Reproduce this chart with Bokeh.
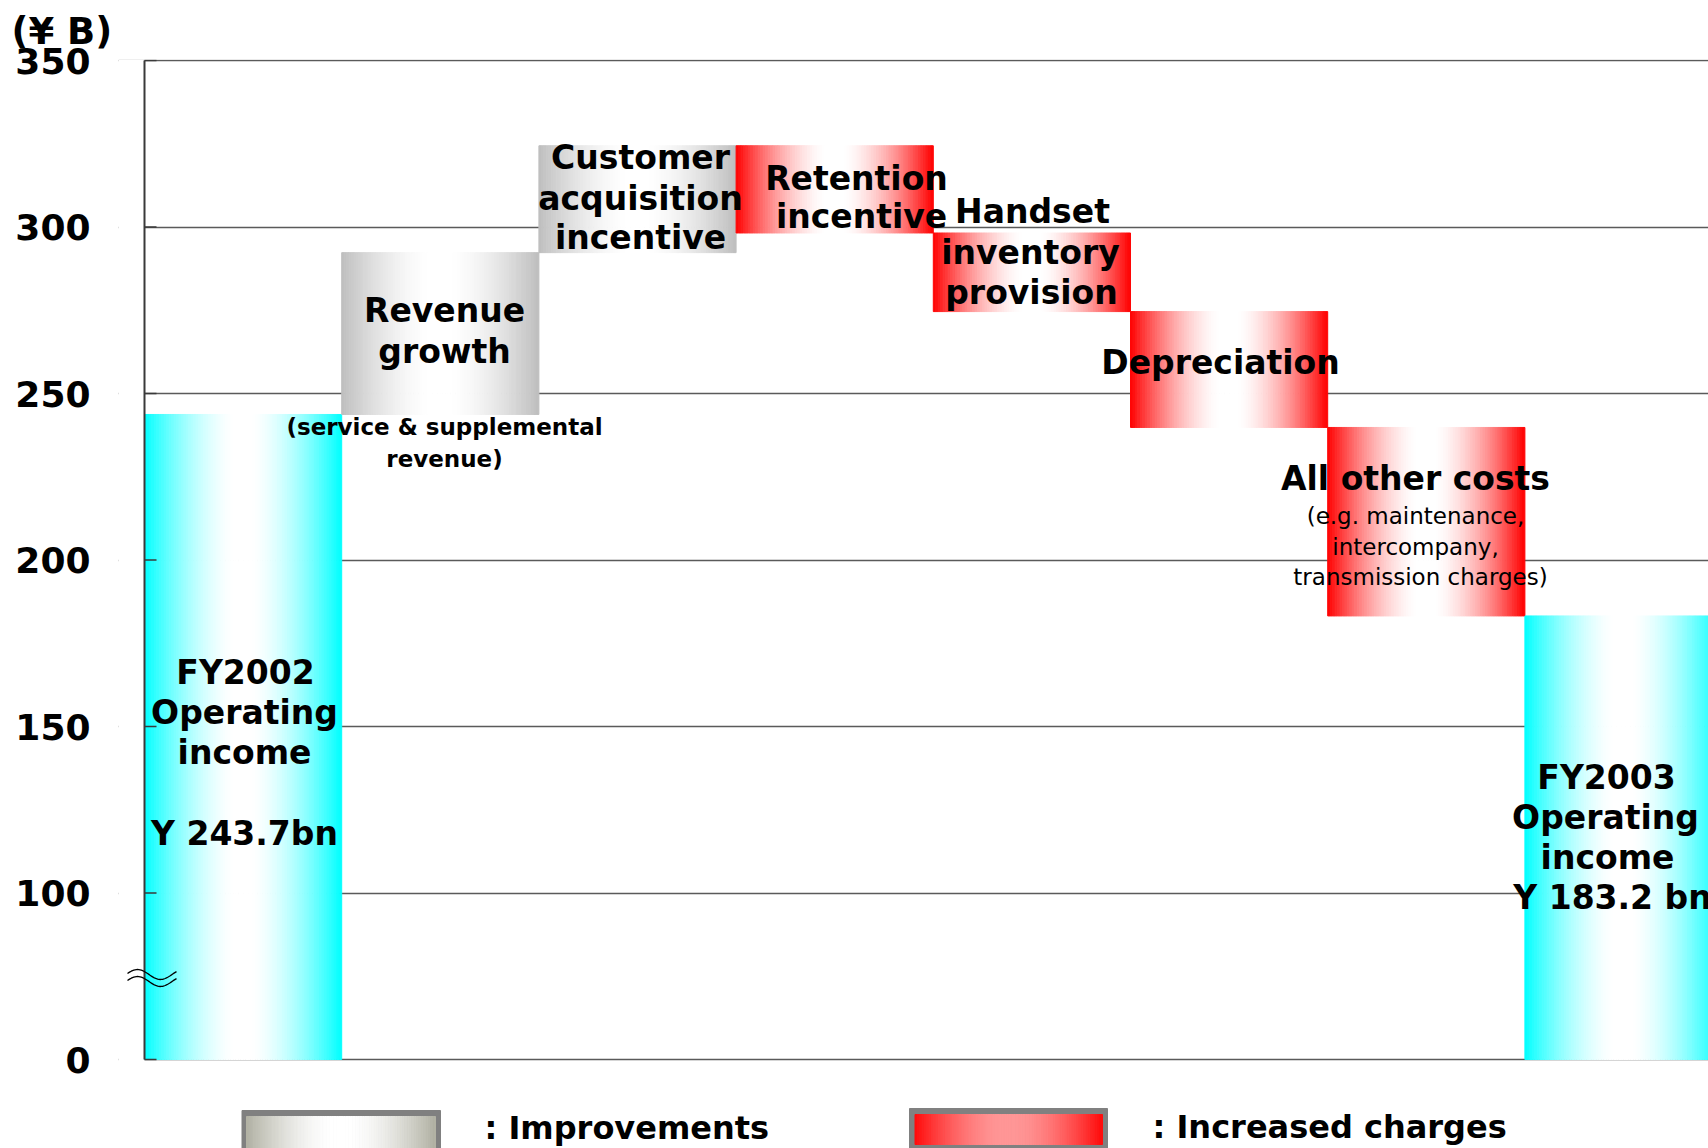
import numpy as np
from bokeh.plotting import figure
from bokeh.models import Range1d, FixedTicker, ColumnDataSource
from bokeh.embed import file_html
from bokeh.resources import INLINE
from bokeh.core.properties import value

# ---------------- data ----------------
categories = ["FY2002 Operating income", "Revenue growth", "Customer acquisition incentive",
              "Retention incentive", "Handset inventory provision", "Depreciation",
              "All other costs", "FY2003 Operating income"]
start_value = 243.7
changes = [48.6, 32.1, -26.2, -23.6, -34.8, -56.6]
end_value = 183.2
kinds = ["total", "improvement", "improvement", "charge", "charge", "charge", "charge", "total"]
y_ticks = [50, 100, 150, 200, 250, 300, 350]
y_tick_labels = ["0", "100", "150", "200", "250", "300", "350"]
axis_base = 50          # broken axis: the "0" line sits where 50 would be
y_top = 350
unit_label = "(¥ B)"
legend_labels = [": Improvements", ": Increased charges"]

# ---------------- layout constants ----------------
W, H = 1708, 1148
AXIS_PX = 144            # where the value axis line is drawn
FRAME_L = 118            # frame starts a bit left so the break mark is visible
FRAME_T = 59
PX_PER_UNIT = 999 / 300.0
BAR_PX = 197.2
Y_ZERO_PX = 1059


def dx(px):
    return -0.5 + (np.asarray(px, dtype=float) - AXIS_PX) / BAR_PX


def dy(py):
    return axis_base + (Y_ZERO_PX - np.asarray(py, dtype=float)) / PX_PER_UNIT


X0, X1 = float(dx(FRAME_L)), float(dx(W))
Y0, Y1 = float(dy(H)), float(dy(FRAME_T))

# ---------------- waterfall geometry from data ----------------
bottoms, tops = [axis_base], [start_value]
running = start_value
for c in changes:
    bottoms.append(min(running, running + c))
    tops.append(max(running, running + c))
    running += c
bottoms.append(axis_base)
tops.append(end_value)

edge_colors = {"total": (0, 255, 255), "improvement": (190, 190, 190), "charge": (255, 0, 0)}
WHITE = (255, 255, 255)
N = 80


def mix(edge, center, f):
    return "#%02x%02x%02x" % tuple(int(round(c + (e - c) * f)) for e, c in zip(edge, center))


def prof(s):
    return float(np.clip((s - 0.08) / 0.92, 0, 1)) ** 1.6


def gradient_quads(left, right, bottom, top, edge, center, store):
    w = (right - left) / N
    for k in range(N):
        t = (k + 0.5) / N
        s = abs(2 * t - 1)
        col = mix(edge, center, prof(s))
        store["left"].append(left + k * w)
        store["right"].append(left + (k + 1) * w)
        store["bottom"].append(bottom)
        store["top"].append(top)
        store["color"].append(col)


bars = {"left": [], "right": [], "bottom": [], "top": [], "color": []}
for i, kind in enumerate(kinds):
    gradient_quads(i - 0.5, i + 0.5, bottoms[i], tops[i], edge_colors[kind], WHITE, bars)

p = figure(width=W, height=H, output_backend="svg", toolbar_location=None,
           x_range=Range1d(X0, X1), y_range=Range1d(Y0, Y1),
           x_axis_location=None, min_border_left=FRAME_L, min_border_right=0,
           min_border_top=FRAME_T, min_border_bottom=0, outline_line_color=None,
           background_fill_color="white", border_fill_color="white")

# title used as the unit label at the top-left
p.title.text = unit_label
p.title.align = "left"
p.title.offset = 11 - FRAME_L
p.title.text_font = "DejaVu Sans"
p.title.text_font_style = "bold"
p.title.text_font_size = "37px"
p.title.text_color = "black"
p.title.standoff = 13

# ---------------- axis & grid ----------------
ax = p.yaxis[0]
ax.ticker = FixedTicker(ticks=y_ticks)
ax.major_label_overrides = {t: l for t, l in zip(y_ticks, y_tick_labels)}
ax.bounds = (axis_base, y_top)
ax.major_tick_in = 0
ax.major_tick_out = 0
ax.minor_tick_line_color = None
ax.axis_line_color = None
ax.major_tick_line_color = None
ax.major_label_standoff = FRAME_L - 90
ax.major_label_text_font = "DejaVu Sans"
ax.major_label_text_font_style = "bold"
ax.major_label_text_font_size = "36px"
ax.major_label_text_color = "black"
p.ygrid.grid_line_color = "#5a5a5a"
p.ygrid.grid_line_width = 1.5
p.xgrid.visible = False

# hide the grid stubs left of the drawn axis line
p.quad(left=X0, right=float(dx(AXIS_PX)), bottom=Y0, top=Y1, fill_color="white",
       line_color=None)

# bars
p.quad(left="left", right="right", bottom="bottom", top="top", fill_color="color",
       line_color="color", line_width=1, source=ColumnDataSource(bars))

# value-axis line and inward ticks
ax_x = float(dx(AXIS_PX))
p.segment(x0=[ax_x], y0=[axis_base], x1=[ax_x], y1=[y_top], line_color="#3a3a3a",
          line_width=2)
p.segment(x0=[ax_x] * len(y_ticks), y0=y_ticks, x1=[float(dx(AXIS_PX + 12))] * len(y_ticks),
          y1=y_ticks, line_color="#3a3a3a", line_width=1.5)

# ---------------- break marker ----------------
wx = np.linspace(127, 176, 40)
for off in (0, 7):
    wy = 974 + off + 5 * np.cos(2 * np.pi * (wx - 160) / 46)
    p.line(x=dx(wx), y=dy(wy), line_color="black", line_width=1.3)

# ---------------- texts ----------------
big = [("FY2002", 245, 671.7), ("Operating", 244, 711.7), ("income", 244, 751.7),
       ("Y 243.7bn", 244, 833),
       ("Revenue", 444, 310.4), ("growth", 444, 350.8),
       ("Customer", 640, 156.7), ("acquisition", 640, 198.3), ("incentive", 640, 237.3),
       ("Retention", 856, 178.3), ("incentive", 861, 216),
       ("Handset", 1032, 210.7), ("inventory", 1030, 251.7), ("provision", 1031, 291.7),
       ("Depreciation", 1220, 361.7),
       ("All other costs", 1415, 478.3),
       ("FY2003", 1606, 776.7), ("Operating", 1605, 817.3), ("income", 1607, 856.7),
       ("Y 183.2 bn", 1612, 896.7)]
small_bold = [("(service & supplemental", 444, 426.7), ("revenue)", 444, 458.3)]
small_reg = [("(e.g. maintenance,", 1415, 515), ("intercompany,", 1415, 546.7),
             ("transmission charges)", 1420, 576.7)]


def add_texts(items, size, style, align="center"):
    src = ColumnDataSource(dict(x=[float(dx(a[1])) for a in items],
                                y=[float(dy(a[2])) for a in items],
                                text=[a[0] for a in items]))
    p.text(x="x", y="y", text="text", source=src, text_font=value("DejaVu Sans"),
           text_font_style=style, text_font_size=size, text_align=align,
           text_baseline="middle", text_color="black")


add_texts(big, "33px", "bold")
add_texts(small_bold, "23px", "bold")
add_texts(small_reg, "23px", "normal")

# ---------------- legend ----------------
leg = {"left": [], "right": [], "bottom": [], "top": [], "color": []}
for (ol, orr, ot, ob), (il, ir, it, ib), edge, center in [
        ((241.5, 440, 1110, 1152), (246, 435, 1116, 1152), (176, 176, 162), WHITE),
        ((909, 1107, 1108, 1148), (914.5, 1102, 1114, 1144), (255, 10, 10), (255, 150, 150))]:
    leg["left"].append(float(dx(ol))); leg["right"].append(float(dx(orr)))
    leg["bottom"].append(float(dy(ob))); leg["top"].append(float(dy(ot)))
    leg["color"].append("#808080")
    gradient_quads(float(dx(il)), float(dx(ir)), float(dy(ib)), float(dy(it)), edge, center, leg)
p.quad(left="left", right="right", bottom="bottom", top="top", fill_color="color",
       line_color="color", line_width=1, source=ColumnDataSource(leg))

add_texts([(legend_labels[0], 484, 1127), (legend_labels[1], 1152, 1126)], "32px", "bold",
          align="left")

open("out.html", "w").write(file_html(p, INLINE))
